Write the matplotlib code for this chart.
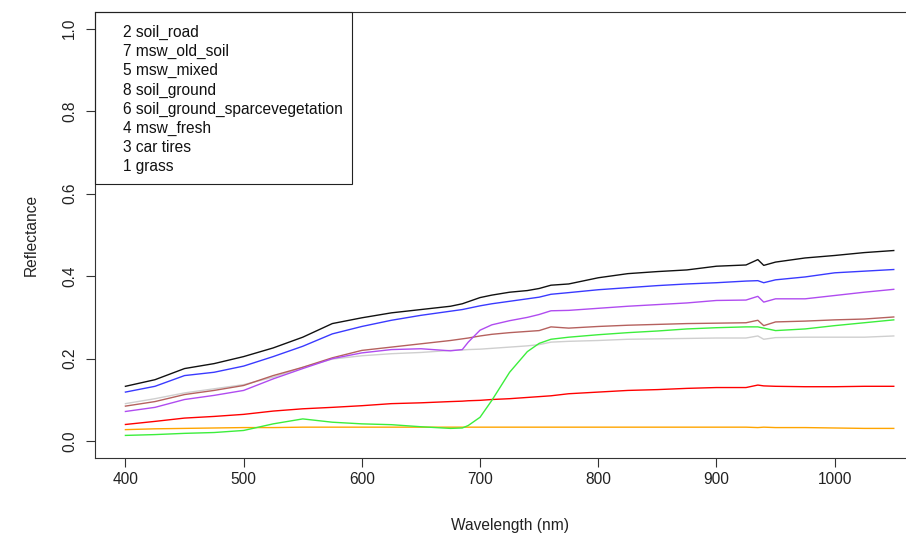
import matplotlib
matplotlib.use("Agg")
import matplotlib.pyplot as plt
from matplotlib.patches import Rectangle

plt.rcParams["font.family"] = ["Liberation Sans", "DejaVu Sans"]

# wavelengths (nm)
wl = [400, 425, 450, 475, 500, 525, 550, 575, 600, 625, 650, 675, 685, 690, 700, 710,
      725, 740, 750, 760, 775, 800, 825, 850, 875, 900, 925, 935, 940, 950, 975, 1000, 1025, 1050]

soil_road = [.133, .149, .176, .188, .205, .226, .252, .285, .299, .311, .319, .327, .333, .338, .348, .354,
             .361, .365, .370, .378, .381, .396, .406, .411, .415, .424, .427, .440, .426, .434, .444, .450, .457, .462]
msw_old_soil = [.119, .133, .159, .167, .182, .205, .230, .260, .278, .293, .305, .315, .319, .322, .328, .333,
                .339, .345, .349, .356, .360, .367, .372, .377, .381, .384, .388, .389, .384, .391, .398, .408, .412, .416]
msw_mixed = [.091, .103, .117, .127, .137, .155, .179, .199, .207, .212, .215, .220, .221, .222, .223, .225,
             .228, .231, .234, .240, .242, .244, .247, .248, .249, .250, .250, .255, .247, .251, .252, .252, .252, .255]
soil_ground = [.085, .096, .113, .123, .135, .159, .179, .202, .220, .228, .236, .244, .248, .250, .255, .259,
               .263, .266, .268, .277, .274, .278, .281, .283, .285, .286, .287, .293, .280, .289, .291, .294, .296, .301]
soil_sparceveg = [.072, .082, .101, .111, .123, .151, .176, .200, .214, .222, .224, .219, .222, .240, .269, .282,
                  .292, .300, .307, .316, .317, .322, .327, .331, .335, .341, .342, .351, .337, .345, .345, .353, .361, .368]
msw_fresh = [.0405, .048, .056, .060, .065, .073, .0785, .082, .086, .091, .093, .096, .097, .098, .099, .101,
             .103, .106, .108, .110, .115, .119, .123, .125, .128, .130, .130, .136, .134, .133, .132, .132, .133, .133]
car_tires = [.028, .030, .031, .032, .033, .033, .034, .034, .034, .034, .034, .034, .034, .034, .034, .034,
             .034, .034, .034, .034, .034, .034, .034, .034, .034, .034, .034, .033, .034, .033, .033, .032, .031, .031]
grass = [.014, .016, .019, .021, .026, .042, .054, .046, .042, .040, .035, .031, .032, .038, .058, .099,
         .167, .217, .237, .247, .252, .258, .263, .267, .272, .275, .277, .277, .274, .268, .272, .280, .287, .294]

series = [soil_road, msw_old_soil, msw_mixed, soil_ground, soil_sparceveg, msw_fresh, car_tires, grass]
colors = ["#111111", "#3a3aff", "#cfcfcf", "#b5615e", "#b04cf0", "#ff0000", "#ffa500", "#3cee3c"]
legend_labels = ["2 soil_road", "7 msw_old_soil", "5 msw_mixed", "8 soil_ground",
                 "6 soil_ground_sparcevegetation", "4 msw_fresh", "3 car tires", "1 grass"]

W, H = 906, 536
fs = 11.2
fig = plt.figure(figsize=(W / 100, H / 100), dpi=100)
# plot region runs past the right edge of the image, as in the original
x0, x1, ytop, ybot = 94.7, 924.5, 12.0, 457.7
ax = fig.add_axes([x0 / W, (H - ybot) / H, (x1 - x0) / W, (ybot - ytop) / H])

for s, c in zip(series, colors):
    ax.plot(wl, s, color=c, lw=1.0)

ax.set_xlim(374, 1076)
ax.set_ylim(-0.04, 1.04)
ax.set_xticks([400, 500, 600, 700, 800, 900, 1000])
ax.set_yticks([0.0, 0.2, 0.4, 0.6, 0.8, 1.0])
ax.set_yticklabels(["0.0", "0.2", "0.4", "0.6", "0.8", "1.0"], rotation=90, va="center")
ax.tick_params(length=6.5, width=0.8, labelsize=fs, colors="#333333", labelcolor="#222222")
ax.tick_params(axis="x", pad=4)
ax.tick_params(axis="y", pad=6)
ax.set_xlabel("Wavelength (nm)", fontsize=fs, labelpad=22, color="#222222")
ax.set_ylabel("Reflectance", fontsize=fs, labelpad=17, color="#222222")
for sp in ax.spines.values():
    sp.set_linewidth(0.8)
    sp.set_color("#333333")

# legend box: text only, no symbols
lx1 = (351.7 - x0) / (x1 - x0)
lyb = (ybot - 183.7) / (ybot - ytop)
ax.add_patch(Rectangle((0, lyb), lx1, 1 - lyb, transform=ax.transAxes, fill=False,
                       edgecolor="#222222", lw=0.8, clip_on=False, zorder=5))
ty0 = (ybot - 32.7) / (ybot - ytop)
dy = 19.1 / (ybot - ytop)
tx = (123.3 - x0) / (x1 - x0)
for i, lab in enumerate(legend_labels):
    ax.text(tx, ty0 - i * dy, lab, transform=ax.transAxes, fontsize=fs,
            va="center", ha="left", color="#111111")

fig.savefig("out.png", dpi=100)
